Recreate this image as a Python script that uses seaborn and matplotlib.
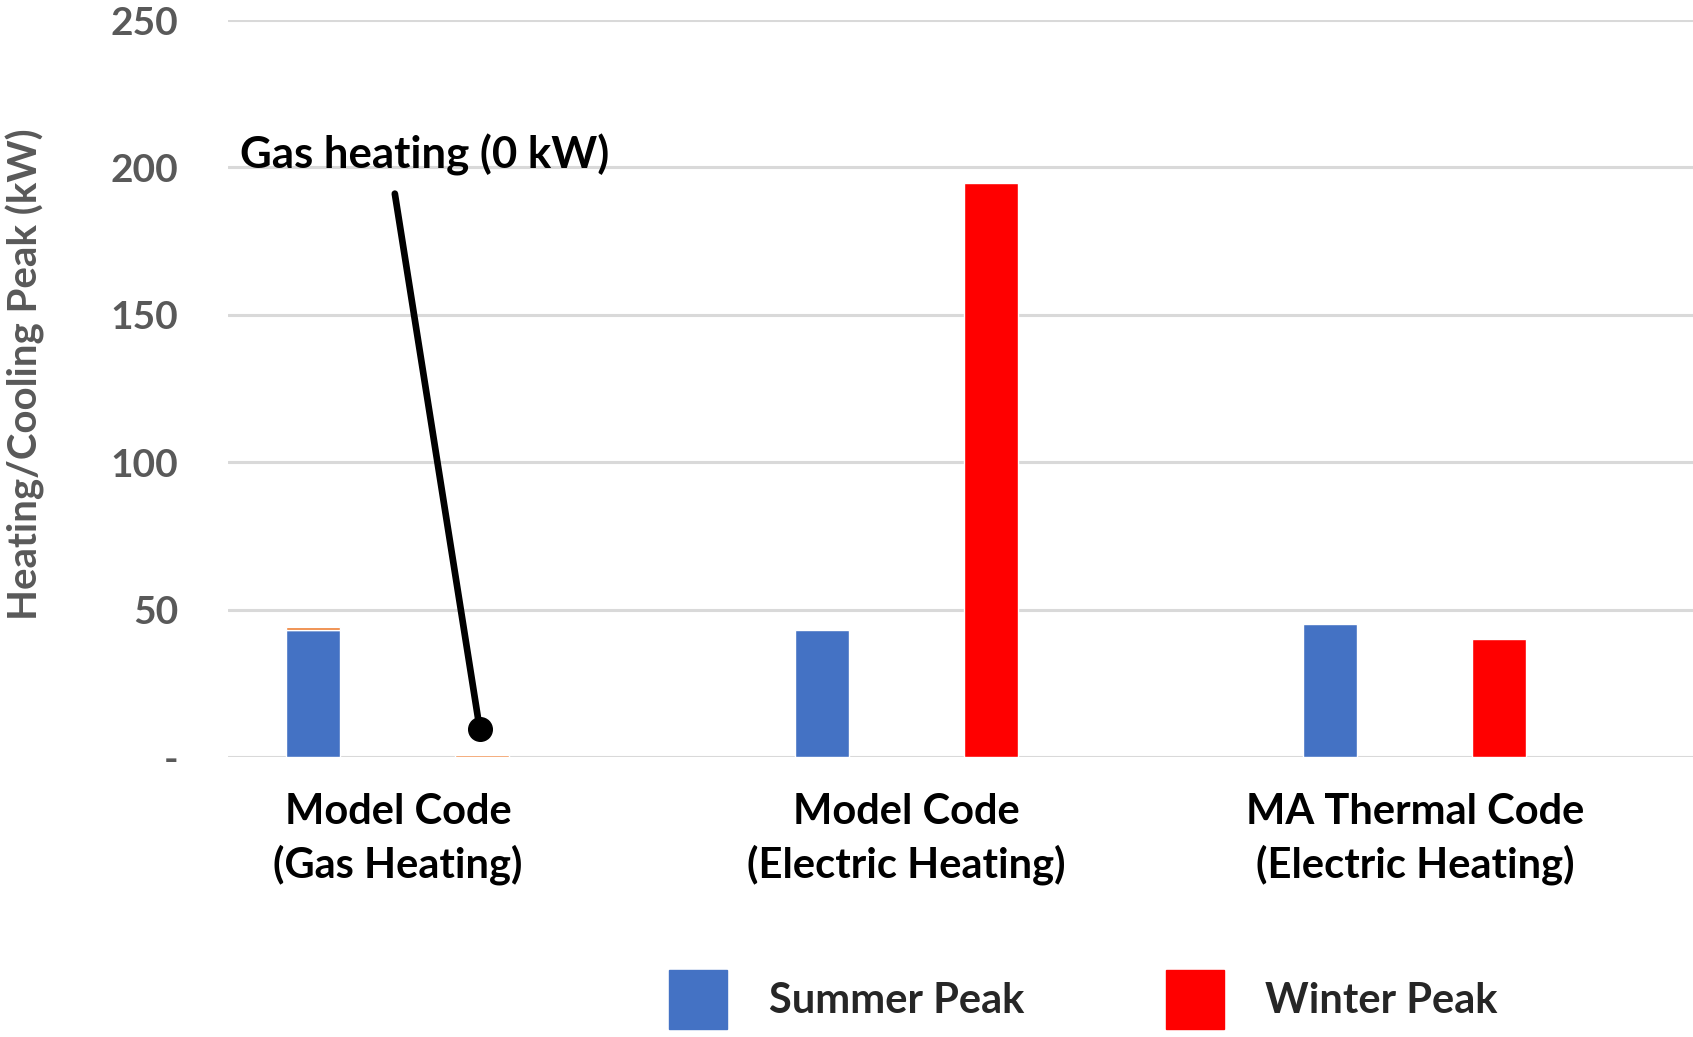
import pandas as pd
import matplotlib.pyplot as plt
import matplotlib.patches as mpatches
import seaborn as sns

# ── data ────────────────────────────────────────────────────────────────
CATEGORIES = ["Model Code\n(Gas Heating)",
              "Model Code\n(Electric Heating)",
              "MA Thermal Code\n(Electric Heating)"]
SUMMER_PEAK = [43.2, 43.2, 45.2]
WINTER_PEAK = [0.8, 194.8, 39.9]
GAS_CAP     = [0.8, 0.0, 0.0]       # thin orange sliver sitting on the first blue bar
Y_TICKS     = [0, 50, 100, 150, 200, 250]
Y_TICKLBL   = ["-", "50", "100", "150", "200", "250"]

BLUE   = "#4472C4"
RED    = "#FF0000"
ORANGE = "#ED7D31"
GREY   = "#595959"
GRID   = "#D9D9D9"
WINTER_COLORS = [ORANGE, RED, RED]

sns.set_theme(style="white")
plt.rcParams["font.family"] = ["Lato", "DejaVu Sans"]

df = pd.DataFrame({
    "cat": CATEGORIES * 2,
    "season": ["Summer Peak"] * 3 + ["Winter Peak"] * 3,
    "kW": SUMMER_PEAK + WINTER_PEAK,
})

fig = plt.figure(figsize=(16.93, 10.37), dpi=100)
ax = fig.add_axes([0.1347, 0.270, 0.8653, 0.7107])

sns.barplot(data=df, x="cat", y="kW", hue="season",
            palette={"Summer Peak": BLUE, "Winter Peak": RED},
            width=0.664, gap=0.68, errorbar=None, legend=False,
            saturation=1, ax=ax, zorder=3)

# first winter bar is the orange "gas" one
for bar, c in zip(ax.containers[1], WINTER_COLORS):
    bar.set_facecolor(c)

# orange cap stacked on the blue bars
summer_bars = ax.containers[0]
for bar, base, cap in zip(summer_bars, SUMMER_PEAK, GAS_CAP):
    if cap > 0:
        ax.bar(bar.get_x() + bar.get_width() / 2, cap, width=bar.get_width(),
               bottom=base, color=ORANGE, zorder=3)

ax.set_xlim(-0.334, 2.547)
ax.set_ylim(0, 250)
ax.set_yticks(Y_TICKS)
ax.set_yticklabels(Y_TICKLBL, color=GREY, fontsize=28, fontweight="bold")
ax.yaxis.grid(True, color=GRID, linewidth=2.2, zorder=0)
ax.xaxis.grid(False)
for s in ax.spines.values():
    s.set_visible(False)
ax.tick_params(axis="y", length=0, pad=36)
ax.tick_params(axis="x", length=0, pad=26)
for lbl in ax.get_xticklabels():
    lbl.set_fontsize(30)
    lbl.set_fontweight("bold")
    lbl.set_color("black")
    lbl.set_linespacing(1.4)
ax.set_xlabel("")
ax.set_ylabel("Heating/Cooling Peak (kW)", fontsize=29, color=GREY,
              fontweight="bold")
ax.yaxis.set_label_coords(-0.125, 0.52)

# callout
ax.text(-0.311, 204.3, "Gas heating (0 kW)", fontsize=31.5, fontweight="bold",
        ha="left", va="center", color="black", zorder=5)
ax.annotate("", xy=(0.161, 9.5), xytext=(-0.006, 191.1),
            arrowprops=dict(arrowstyle="-", lw=4.8, color="black",
                            shrinkA=0, shrinkB=0), zorder=5)
ax.plot([0.161], [9.5], marker="o", markersize=17, color="black", zorder=6)

handles = [mpatches.Patch(color=BLUE, label="Summer Peak"),
           mpatches.Patch(color=RED, label="Winter Peak")]
fig.legend(handles=handles, loc="center", bbox_to_anchor=(0.64, 0.036),
           ncol=2, frameon=False, handlelength=1.39, handleheight=1.8,
           handletextpad=1.0, columnspacing=3.4,
           prop={"size": 30, "weight": "bold"})

plt.savefig("out.png", dpi=100)
plt.close()
